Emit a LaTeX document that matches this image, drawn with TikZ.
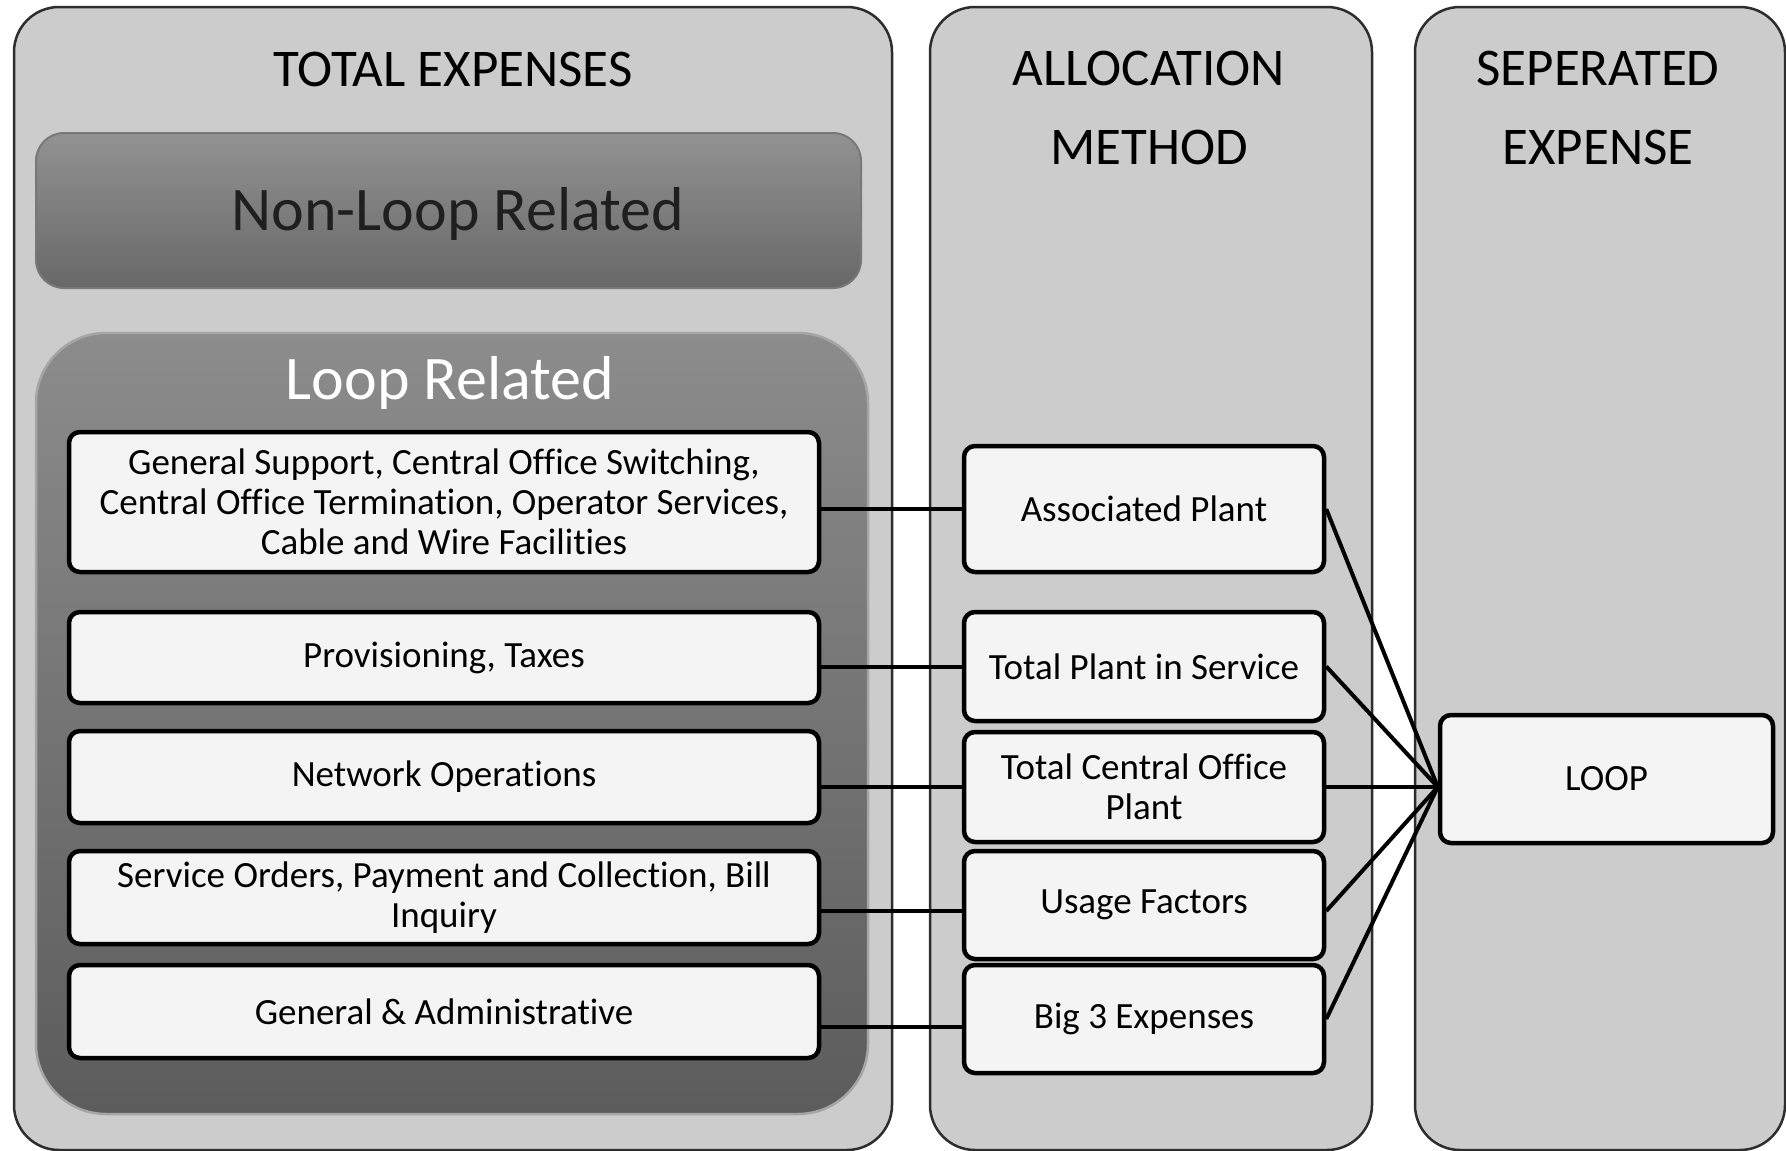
\documentclass[tikz,border=0pt]{standalone}
\usepackage{fontspec}
\setmainfont[Ligatures={NoCommon}]{Carlito}
\usetikzlibrary{calc}

\definecolor{panelfill}{RGB}{204,204,204}
\definecolor{paneledge}{RGB}{45,45,45}
\definecolor{nltop}{RGB}{146,146,146}
\definecolor{nlbot}{RGB}{104,104,104}
\definecolor{nlrim}{RGB}{120,120,120}
\definecolor{looptop}{RGB}{140,140,140}
\definecolor{loopbot}{RGB}{92,92,92}
\definecolor{looprim}{RGB}{165,165,165}
\definecolor{boxfill}{RGB}{244,244,244}

\tikzset{
  panel/.style={draw=paneledge, line width=2.5pt, fill=panelfill, rounded corners=45pt},
  coltitle/.style={font=\fontsize{53}{79}\selectfont, align=center, inner sep=0pt},
  bigtitle/.style={font=\fontsize{62}{70}\selectfont, inner sep=0pt, anchor=base},
  itembox/.style={draw=black, line width=4.5pt, fill=boxfill, rounded corners=11pt,
    align=center, inner sep=0pt, font=\fontsize{37}{40}\selectfont},
  leftbox/.style={itembox, minimum width=750pt},
  midbox/.style={itembox, minimum width=360pt},
  link/.style={draw=black, line width=4pt},
}

\begin{document}
\begin{tikzpicture}[x=1pt,y=-1pt]
\useasboundingbox (0,0) rectangle (1786,1151);

% three column panels
\draw[panel] (14,7) rectangle (892,1150);
\draw[panel] (930,7) rectangle (1372,1150);
\draw[panel] (1415,7) rectangle (1785,1150);

% column headings
\node[coltitle] (ttotal) at (453,69) {TOTAL EXPENSES};
\node[coltitle] (talloc) at (1149,108) {ALLOCATION\\METHOD};
\node[coltitle] (tsep) at (1598,108) {SEPERATED\\EXPENSE};

% non-loop block
\node[draw=nlrim, line width=2pt, rounded corners=28pt, top color=nltop, bottom color=nlbot,
      minimum width=825pt, minimum height=155pt] (nonloop) at (448.5,210.5) {};
\node[bigtitle, text=black!88] (nonlooptxt) at (458,230) {Non-Loop Related};

% loop-related container
\draw[draw=looprim, line width=2.5pt, rounded corners=70pt, top color=looptop, bottom color=loopbot]
  (36,333) rectangle (868,1114);
\node[bigtitle, text=white] (looptxt) at (450,399) {Loop Related};

% expense categories
\node[leftbox, minimum height=140pt] (b1) at (444,502)
  {General Support, Central Office Switching,\\Central Office Termination, Operator Services,\\Cable and Wire Facilities};
\node[leftbox, minimum height=91pt] (b2) at (444,657.5) {Provisioning, Taxes};
\node[leftbox, minimum height=92pt] (b3) at (444,777) {Network Operations};
\node[leftbox, minimum height=93pt] (b4) at (444,897.5) {Service Orders, Payment and Collection, Bill\\Inquiry};
\node[leftbox, minimum height=93pt] (b5) at (444,1011.5) {General \& Administrative};

% allocation methods
\node[midbox, minimum height=126pt] (m1) at (1144,509) {Associated Plant};
\node[midbox, minimum height=109pt] (m2) at (1144,666.5) {Total Plant in Service};
\node[midbox, minimum height=110pt] (m3) at (1144,787) {Total Central Office\\Plant};
\node[midbox, minimum height=108pt] (m4) at (1144,905) {Usage Factors};
\node[midbox, minimum height=108pt] (m5) at (1144,1019) {Big 3 Expenses};

% separated expense
\node[itembox, minimum width=333pt, minimum height=128pt] (loop) at (1606.5,779) {LOOP};

% category to method
\draw[link] (m1.west) -- (m1.west -| b1.east);
\draw[link] (m2.west) -- (m2.west -| b2.east);
\draw[link] (m3.west) -- (m3.west -| b3.east);
\draw[link] ([yshift=-6pt]m4.west) -- ([yshift=-6pt]m4.west -| b4.east);
\draw[link] ([yshift=-8pt]m5.west) -- ([yshift=-8pt]m5.west -| b5.east);

% method to loop
\coordinate (hub) at ([yshift=-8pt]loop.west);
\draw[link] (m1.east) -- (hub);
\draw[link] (m2.east) -- (hub);
\draw[link] (m3.east) -- (hub);
\draw[link] ([yshift=-6pt]m4.east) -- (hub);
\draw[link] (m5.east) -- (hub);
\end{tikzpicture}
\end{document}
